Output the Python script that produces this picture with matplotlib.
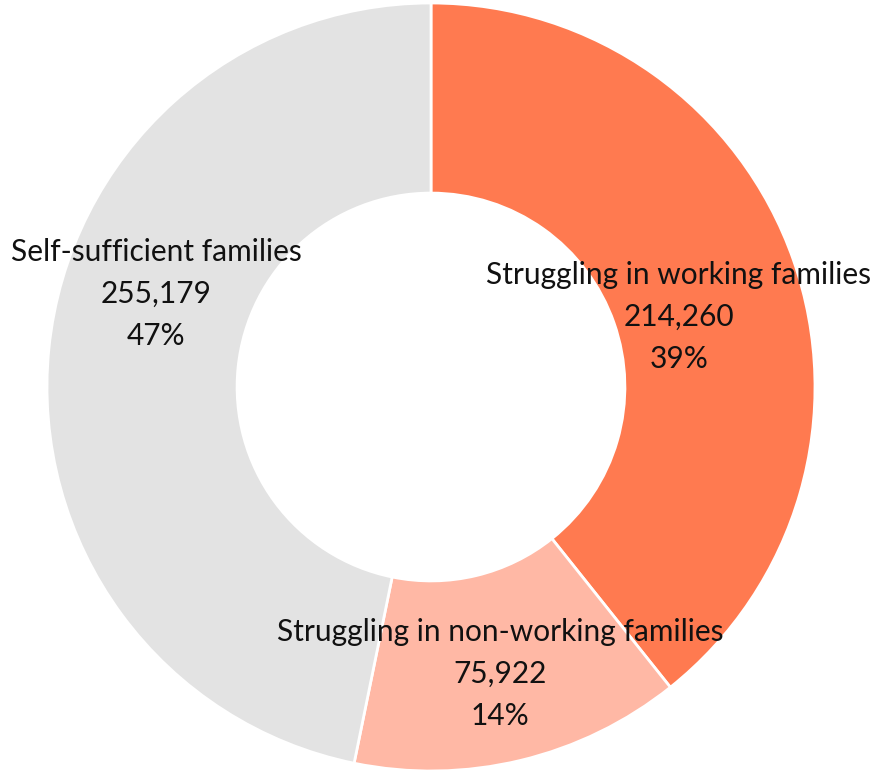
import matplotlib.pyplot as plt

# Data
categories = ["Struggling in working families", "Struggling in non-working families", "Self-sufficient families"]
counts = [214260, 75922, 255179]
pct_labels = ["39%", "14%", "47%"]
colors = ["#FF7A50", "#FFB8A5", "#E3E3E3"]

# Label anchor positions (pixels, top-left origin)
label_pos = [(679, 317), (500, 674), (156, 294)]

W, H = 876, 772
fig = plt.figure(figsize=(W / 100, H / 100), dpi=100)
ax = fig.add_axes([0, 0, 1, 1])

ax.pie(counts, colors=colors, startangle=90, counterclock=False,
       radius=384, center=(431, H - 387),
       wedgeprops=dict(width=384 * 0.495, edgecolor="white", linewidth=2))

ax.set_xlim(0, W)
ax.set_ylim(0, H)
ax.set_aspect("equal")
ax.axis("off")

for name, n, p, (x, y) in zip(categories, counts, pct_labels, label_pos):
    ax.text(x, H - y, f"{name}\n{n:,}\n{p}", ha="center", va="center",
            fontsize=21.5, family="Lato", color="#111111", linespacing=1.6)

fig.savefig("out.png", dpi=100)
